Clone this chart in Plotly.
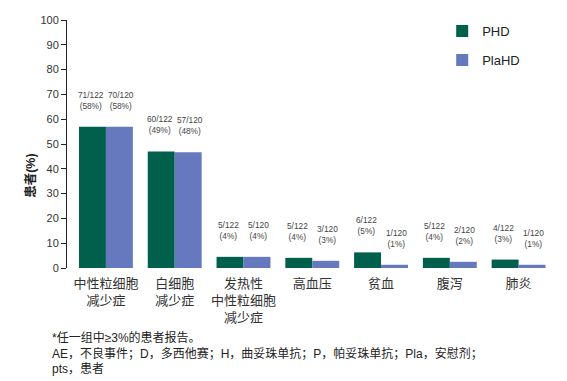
import plotly.graph_objects as go

categories = ["中性粒细胞<br>减少症", "白细胞<br>减少症", "发热性<br>中性粒细胞<br>减少症", "高血压", "贫血", "腹泻", "肺炎"]
phd_values = [57, 47, 4.5, 4.1, 6.3, 4.1, 3.4]
plahd_values = [57, 46.7, 4.5, 2.9, 1.3, 2.5, 1.3]
phd_labels = ["71/122<br>(58%)", "60/122<br>(49%)", "5/122<br>(4%)", "5/122<br>(4%)", "6/122<br>(5%)", "5/122<br>(4%)", "4/122<br>(3%)"]
plahd_labels = ["70/120<br>(58%)", "57/120<br>(48%)", "5/120<br>(4%)", "3/120<br>(3%)", "1/120<br>(1%)", "2/120<br>(2%)", "1/120<br>(1%)"]
y_ticks = [0, 10, 20, 30, 40, 50, 60, 70, 80, 90, 100]

PHD_COLOR = "#00604B"
PLA_COLOR = "#6679BE"
FONT = "Arial, 'Liberation Sans', 'Noto Sans CJK SC', sans-serif"

fig = go.Figure()
fig.add_trace(go.Bar(x=categories, y=phd_values, name="PHD", marker_color=PHD_COLOR,
                     marker_line_width=0, legendgroup="a"))
fig.add_trace(go.Bar(x=categories, y=plahd_values, name="PlaHD", marker_color=PLA_COLOR,
                     marker_line_width=0, legendgroup="b"))

annotations = []
for i, c in enumerate(categories):
    for vals, labs, dx in ((phd_values, phd_labels, -15), (plahd_values, plahd_labels, 15)):
        annotations.append(dict(x=c, y=vals[i], xref="x", yref="y", text=labs[i],
                                showarrow=False, xshift=dx, yshift=14, yanchor="bottom",
                                font=dict(size=8.3, color="#444444", family=FONT)))

annotations.append(dict(x=-0.075, y=0.37, xref="paper", yref="paper", text="<b>患者(%)</b>",
                        showarrow=False, textangle=-90, xanchor="center", yanchor="middle",
                        font=dict(size=12.5, color="#222222", family=FONT)))

footnote = ("*任一组中≥3%的患者报告。<br>"
            "AE，不良事件；D，多西他赛；H，曲妥珠单抗；P，帕妥珠单抗；Pla，安慰剂；<br>"
            "pts，患者")
annotations.append(dict(x=-0.035, y=-0.242, xref="paper", yref="paper", text=footnote,
                        showarrow=False, align="left", xanchor="left", yanchor="top",
                        font=dict(size=12, color="#222222", family=FONT)))

fig.update_layout(
    width=551, height=373,
    margin=dict(l=59, r=6, t=8, b=113),
    paper_bgcolor="white", plot_bgcolor="white",
    font=dict(family=FONT, color="#333333"),
    barmode="group", bargap=0.216, bargroupgap=0,
    showlegend=True,
    legend=dict(x=0.772, y=1.016, xanchor="left", yanchor="top",
                font=dict(size=13, color="#222222", family=FONT),
                tracegroupgap=9, bgcolor="rgba(0,0,0,0)"),
    annotations=annotations,
)
fig.update_xaxes(range=[-0.566, 6.5], showline=False, ticks="", showgrid=False,
                 tickfont=dict(size=13, color="#333333", family=FONT), tickangle=0,
                 ticklabelstandoff=6)
fig.update_yaxes(range=[0, 100], tickvals=y_ticks, showline=True, linecolor="#222222", linewidth=1,
                 ticks="outside", ticklen=5, tickcolor="#222222", showgrid=False, zeroline=False,
                 tickfont=dict(size=11, color="#333333", family=FONT))

fig.write_html("out.html")
